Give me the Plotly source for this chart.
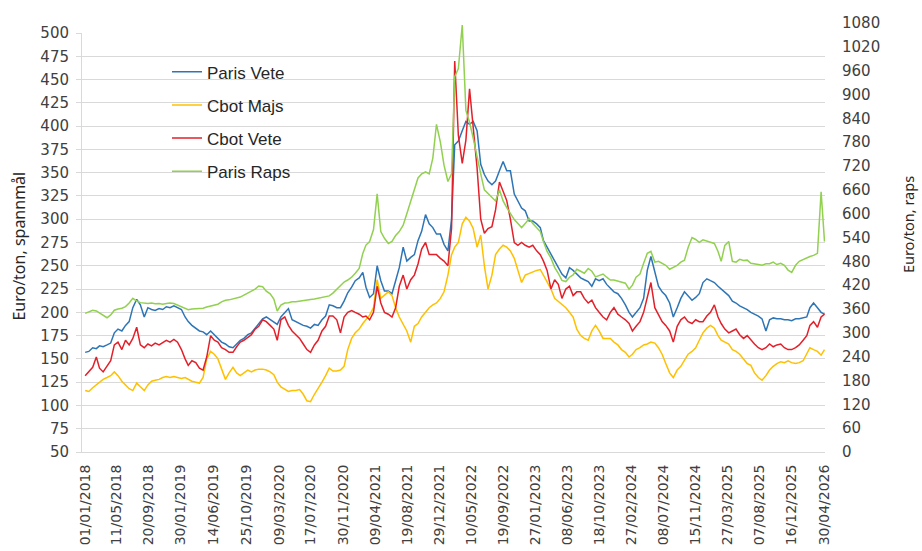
import plotly.graph_objects as go

# Sampling dates: 1st and 16th of every month, Jan 2018 - Apr 2026, plus the last day
DATES = []
for yr in range(2018, 2027):
    for mo in range(1, 13):
        if yr == 2026 and mo > 4:
            break
        DATES.append(f"{yr}-{mo:02d}-01")
        DATES.append(f"{yr}-{mo:02d}-16")
DATES.append("2026-04-30")

TICK_DATES = ["2018-01-01", "2018-05-11", "2018-09-20", "2019-01-30", "2019-06-14",
              "2019-10-25", "2020-03-09", "2020-07-17", "2020-11-30", "2021-04-09",
              "2021-08-19", "2021-12-29", "2022-05-10", "2022-09-19", "2023-01-27",
              "2023-06-08", "2023-10-18", "2024-02-27", "2024-07-08", "2024-11-15",
              "2025-03-27", "2025-08-07", "2025-12-16", "2026-04-30"]

# Euro/ton, left axis
PARIS_VETE = [
    157, 158, 162, 161, 164, 163, 165, 167, 178, 182, 180, 186, 190, 205, 214, 208, 195, 205, 203, 202, 204, 203, 206, 205,
    207, 205, 203, 195, 190, 186, 183, 180, 179, 176, 180, 176, 172, 168, 166, 163, 162, 166, 170, 172, 176, 178, 183, 187,
    193, 195, 192, 190, 187, 195, 200, 204, 192, 190, 188, 186, 185, 183, 187, 186, 192, 196, 208,
    207, 205, 205, 212, 221, 227, 234, 237, 243, 227, 216, 220, 250, 234, 223, 223, 220, 234, 248, 270, 255, 259, 262, 277,
    287, 305, 295, 291, 284, 284, 273, 266, 300, 380, 384, 395, 405, 402, 405, 395, 359, 348, 341, 337, 341, 352, 362, 352,
    352, 327, 320, 312, 309, 298, 298, 295, 291, 277, 270, 262, 255, 248, 241, 237, 248, 245, 241,
    237, 235, 233, 228, 236, 234, 236, 230, 226, 222, 220, 215, 208, 200, 195, 200, 205, 215, 245, 260, 245, 228, 222, 218,
    210, 195, 205, 215, 222, 218, 213, 216, 220, 232, 236, 234, 232, 228, 225, 222, 218, 212, 210, 207, 205, 203, 200, 198,
    196, 193, 180, 192, 194, 193, 193, 192, 192, 191, 193, 193, 194, 195, 205, 210, 205, 200, 198,
]

CBOT_MAJS = [
    116, 115, 119, 122, 125, 128, 130, 132, 136, 132, 126, 122, 118, 116, 124, 120, 116, 122, 126, 127, 128, 130, 131, 130,
    131, 130, 129, 130, 128, 126, 125, 124, 130, 150, 158, 155, 150, 140, 128, 135, 141, 135, 132, 135, 138, 136, 138, 139,
    139, 138, 136, 133, 125, 120, 117, 115, 116, 116, 117, 112, 105, 104, 112, 118, 125, 132, 140,
    137, 137, 138, 142, 160, 172, 178, 182, 188, 192, 197, 205, 235, 215, 218, 222, 218, 205, 195, 188, 180, 168, 185, 188,
    195, 200, 205, 208, 210, 215, 222, 240, 262, 270, 275, 295, 302, 298, 290, 270, 283, 250, 225, 240, 262, 268, 272, 270,
    266, 258, 245, 232, 240, 242, 243, 245, 246, 240, 232, 225, 215, 212, 208, 205, 200, 195, 182,
    175, 172, 170, 180, 186, 180, 172, 172, 172, 168, 165, 160, 157, 152, 155, 160, 162, 165, 166, 168, 167, 162, 155, 145,
    135, 130, 138, 142, 148, 155, 158, 162, 170, 178, 183, 186, 183, 175, 170, 168, 166, 160, 158, 155, 150, 145, 143, 135,
    130, 127, 132, 138, 142, 145, 147, 146, 148, 146, 145, 146, 148, 155, 162, 160, 158, 154, 160,
]

CBOT_VETE = [
    132, 136, 141, 152, 140, 136, 142, 148, 165, 168, 160, 170, 165, 172, 184, 165, 162, 166, 164, 167, 165, 168, 170, 168,
    171, 168, 160, 150, 143, 148, 146, 140, 138, 152, 175, 170, 168, 162, 160, 157, 157, 163, 168, 170, 173, 176, 182, 185,
    192, 190, 186, 182, 170, 192, 195, 186, 180, 176, 172, 166, 160, 157, 165, 170, 180, 185, 196,
    196, 192, 178, 195, 200, 202, 200, 198, 195, 196, 192, 200, 228, 210, 200, 198, 195, 205, 228, 240, 225, 235, 240, 252,
    268, 275, 262, 262, 262, 258, 255, 250, 290, 470, 390, 360, 385, 440, 400, 355, 300, 285, 290, 292, 310, 340, 330, 320,
    300, 275, 272, 275, 272, 270, 272, 266, 262, 255, 245, 225, 235, 230, 215, 225, 228, 218, 222,
    222, 215, 210, 213, 205, 200, 195, 192, 200, 205, 198, 195, 192, 188, 180, 185, 190, 200, 215, 232, 205, 198, 190, 186,
    180, 168, 185, 192, 195, 190, 188, 192, 190, 190, 196, 200, 208, 195, 188, 182, 178, 180, 182, 176, 172, 175, 170, 166,
    162, 160, 162, 166, 163, 165, 166, 162, 160, 160, 162, 165, 170, 175, 186, 190, 184, 195, 198,
]

# Euro/ton, right axis
PARIS_RAPS = [
    349, 352, 357, 355, 350, 345, 338, 345, 357, 360, 362, 366, 375, 387, 380, 376, 374, 374, 375, 373, 374, 372, 374, 375,
    374, 370, 365, 360, 358, 360, 361, 362, 362, 365, 368, 370, 372, 378, 382, 383, 385, 387, 390, 395, 400, 405, 410, 418,
    416, 405, 398, 385, 355, 370, 375, 376, 378, 378, 380, 382, 383, 384, 385, 387, 388, 390, 393,
    400, 410, 420, 428, 433, 440, 450, 462, 500, 521, 530, 560, 650, 555, 538, 525, 530, 545, 555, 571, 600, 630, 660, 690,
    700, 705, 700, 740, 825, 780, 722, 681, 700, 945, 965, 1075, 860, 830, 790, 740, 700, 660, 650, 640, 632, 660, 632, 615,
    600, 585, 575, 565, 575, 588, 575, 565, 555, 530, 505, 488, 465, 450, 432, 429, 440, 446, 460,
    455, 450, 462, 455, 441, 445, 448, 440, 433, 433, 430, 428, 425, 410, 420, 440, 448, 475, 500, 505, 478, 480, 475, 470,
    460, 465, 470, 478, 483, 515, 540, 535, 528, 534, 530, 528, 525, 505, 480, 520, 530, 480, 478, 485, 482, 483, 475, 474,
    472, 470, 474, 474, 478, 472, 475, 470, 458, 452, 470, 480, 485, 490, 492, 495, 500, 655, 530,
]

SERIES = [
    ("Paris Vete", PARIS_VETE, "#2E75B6", "y"),
    ("Cbot Majs", CBOT_MAJS, "#FFC000", "y"),
    ("Cbot Vete", CBOT_VETE, "#E3202A", "y"),
    ("Paris Raps", PARIS_RAPS, "#92D050", "y2"),
]

fig = go.Figure()
for i, (name, vals, color, yax) in enumerate(SERIES):
    fig.add_trace(go.Scatter(
        x=DATES, y=vals, name=name, mode="lines", yaxis=yax,
        legendgroup=f"g{i}",
        line=dict(color=color, width=1.5),
    ))

TICK_FONT = dict(family="DejaVu Sans", size=15, color="#404040")
GRID = "#D9D9D9"

fig.update_layout(
    width=922, height=551,
    margin=dict(l=82, r=97, t=23, b=99, autoexpand=False),
    paper_bgcolor="white", plot_bgcolor="rgba(0,0,0,0)",
    showlegend=True,
    legend=dict(
        x=0.1144, y=0.927, xanchor="left", yanchor="top",
        font=dict(family="Liberation Sans", size=17, color="#262626"),
        bgcolor="rgba(0,0,0,0)", traceorder="grouped", tracegroupgap=8,
    ),
    xaxis=dict(
        type="date", range=["2017-12-19", "2026-05-02"], automargin=False,
        tickmode="array", tickvals=TICK_DATES, tickformat="%d/%m/%Y",
        tickangle=-90, showgrid=False, showline=True, linecolor=GRID,
        ticks="", tickfont=dict(family="DejaVu Sans", size=14, color="#404040"),
        ticklabelstandoff=6, anchor="y",
    ),
    yaxis=dict(
        domain=[0, 419 / 429], range=[50, 500], tick0=50, dtick=25, automargin=False,
        showgrid=True, gridcolor=GRID, gridwidth=1,
        showline=True, linecolor=GRID, ticks="outside", ticklen=5, tickcolor=GRID,
        zeroline=False, tickfont=TICK_FONT, ticklabelstandoff=4,
    ),
    yaxis2=dict(
        domain=[0, 1], anchor="x", side="right", range=[0, 1080], tick0=0, dtick=60,
        automargin=False, showgrid=False, zeroline=False, showline=False, ticks="",
        tickfont=TICK_FONT, ticklabelstandoff=16,
    ),
    annotations=[
        dict(text="Euro/ton, spannmål", xref="paper", yref="paper", x=-0.086, y=0.479,
             textangle=-90, showarrow=False, xanchor="center", yanchor="middle",
             font=dict(family="Noto Sans", size=16, color="#262626")),
        dict(text="Euro/ton, raps", xref="paper", yref="paper", x=1.111, y=0.53,
             textangle=-90, showarrow=False, xanchor="center", yanchor="middle",
             font=dict(family="Noto Sans", size=14.5, color="#262626")),
    ],
)

fig.write_html("out.html", config={"displayModeBar": False},
               post_script="document.body.style.margin='0px';document.body.style.padding='0px';")
